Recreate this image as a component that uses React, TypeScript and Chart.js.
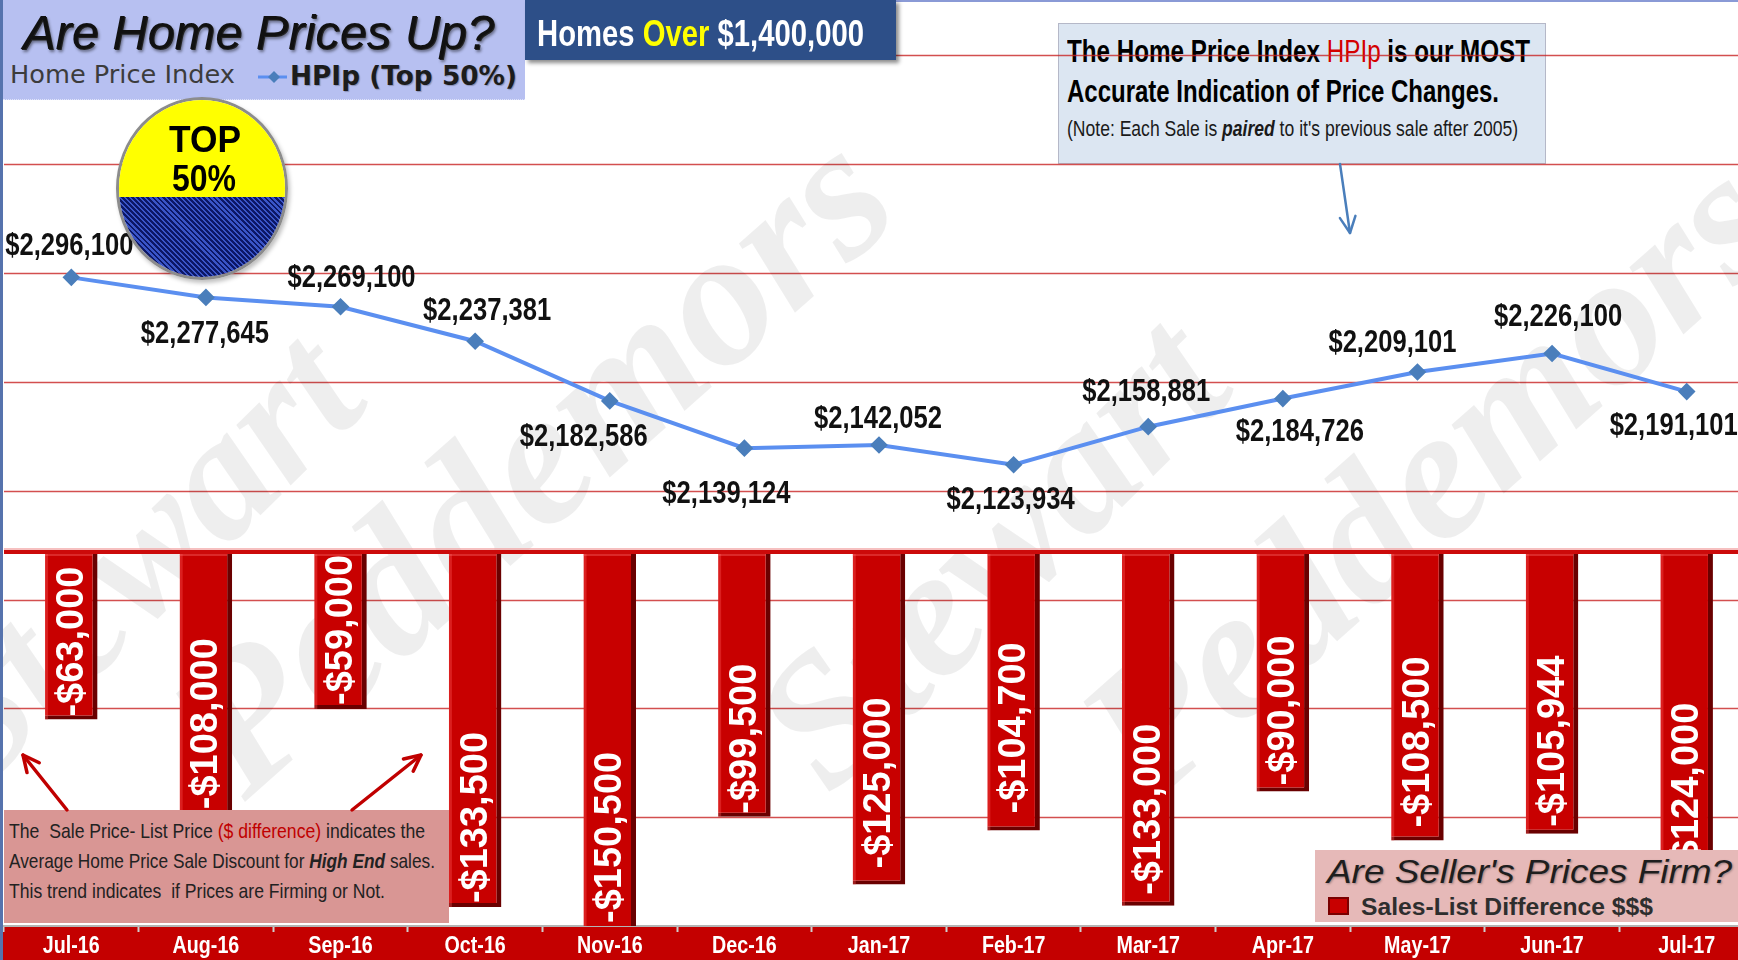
import React, { useEffect, useRef } from 'react';
import { Chart, registerables } from 'chart.js';

Chart.register(...registerables);

// ---------------- data ----------------
const MONTHS = ['Jul-16', 'Aug-16', 'Sep-16', 'Oct-16', 'Nov-16', 'Dec-16', 'Jan-17', 'Feb-17', 'Mar-17', 'Apr-17', 'May-17', 'Jun-17', 'Jul-17'];
const HPIP_TOP50 = [2296100, 2277645, 2269100, 2237381, 2182586, 2139124, 2142052, 2123934, 2158881, 2184726, 2209101, 2226100, 2191101];
const SALES_LIST_DIFF = [-63000, -108000, -59000, -133500, -150500, -99500, -125000, -104700, -133000, -90000, -108500, -105944, -124000];
const HPIP_GRID_VALUES = [1800000, 1900000, 2000000, 2100000, 2200000, 2300000, 2400000, 2500000];

// ---------------- layout (label placement only) ----------------
const HPIP_LABEL_OFFSET: [number, number][] = [
  [-2, -31], [-1, 37], [11, -29], [12, -30], [-26, 36], [-18, 46], [-1, -26],
  [-3, 35], [-2, -35], [17, 34], [-25, -29], [6, -36], [-13, 35],
];
const BAR_LABEL_LIFT = [3, 30, 4, 4, 3, 3, 16, 17, 11, 6, 13, 7, 8];
// watermark words: text, baseline start (x, y), baseline end (x, y)
const WATERMARK: [string, number, number, number, number][] = [
  ['Stewart', -20, 792, 372, 405],
  ['Peddemors', 245, 802, 905, 215],
  ['Stewart', 830, 797, 1238, 392],
  ['Peddemors', 1150, 807, 1790, 240],
];

const SANS = "'Liberation Sans', Arial, sans-serif";
const DEJAVU = "'DejaVu Sans', Verdana, sans-serif";
const SERIF = "'Liberation Serif', 'Times New Roman', serif";

const fmtMoney = (v: number) => (v < 0 ? '-$' : '$') + Math.abs(v).toLocaleString('en-US');

// ---------------- text helpers ----------------
const measureCtx: CanvasRenderingContext2D | null =
  typeof document !== 'undefined' ? document.createElement('canvas').getContext('2d') : null;

type Seg = { t: string; color?: string; weight?: string; italic?: boolean };

function segFont(s: Seg, size: number, family: string, weight: string, italic: boolean) {
  const it = s.italic ?? italic;
  return `${it ? 'italic ' : ''}${s.weight ?? weight} ${size}px ${family}`;
}

function TextLine(props: {
  x: number; baseline: number; size: number; family?: string; weight?: string; italic?: boolean;
  segs: Seg[]; width?: number; align?: 'left' | 'center'; color?: string; shadow?: string;
}) {
  const { x, baseline, size, family = SANS, weight = 'normal', italic = false, segs, width, align = 'left', color = '#000', shadow } = props;
  let natural = 0;
  for (const s of segs) {
    if (measureCtx) {
      measureCtx.font = segFont(s, size, family, weight, italic);
      natural += measureCtx.measureText(s.t).width;
    }
  }
  const sx = width && natural > 0 ? width / natural : 1;
  const w = natural * sx;
  const left = align === 'center' ? x - w / 2 : x;
  return (
    <div
      style={{
        position: 'absolute', left, top: baseline - 0.85 * size, fontSize: size, lineHeight: `${size}px`,
        fontFamily: family, whiteSpace: 'pre', transform: `scaleX(${sx})`, transformOrigin: '0 0',
        color, textShadow: shadow, fontWeight: weight as any, fontStyle: italic ? 'italic' : 'normal',
      }}
    >
      {segs.map((s, i) => (
        <span key={i} style={{ color: s.color, fontWeight: (s.weight ?? weight) as any, fontStyle: (s.italic ?? italic) ? 'italic' : 'normal' }}>
          {s.t}
        </span>
      ))}
    </div>
  );
}

function drawNarrow(ctx: CanvasRenderingContext2D, text: string, cx: number, cy: number, font: string, sx: number) {
  ctx.save();
  ctx.font = font;
  const w = ctx.measureText(text).width * sx;
  ctx.translate(cx - w / 2, cy);
  ctx.scale(sx, 1);
  ctx.textAlign = 'left';
  ctx.textBaseline = 'middle';
  ctx.fillText(text, 0, 0);
  ctx.restore();
}

function Arrow({ x1, y1, x2, y2, color, width, head = 16 }: { x1: number; y1: number; x2: number; y2: number; color: string; width: number; head?: number }) {
  const a = Math.atan2(y2 - y1, x2 - x1);
  const s = 0.45;
  const p1 = [x2 - head * Math.cos(a - s), y2 - head * Math.sin(a - s)];
  const p2 = [x2 - head * Math.cos(a + s), y2 - head * Math.sin(a + s)];
  return (
    <g stroke={color} strokeWidth={width} fill="none" strokeLinecap="round" strokeLinejoin="round">
      <line x1={x1} y1={y1} x2={x2} y2={y2} />
      <polyline points={`${p1[0]},${p1[1]} ${x2},${y2} ${p2[0]},${p2[1]}`} />
    </g>
  );
}

// ---------------- chart plugins ----------------
const backdropPlugin = {
  id: 'backdrop',
  beforeDraw(chart: any) {
    const { ctx, chartArea, width, height, scales } = chart;
    ctx.save();
    // axis band
    ctx.fillStyle = '#c40000';
    ctx.fillRect(0, chartArea.bottom, width, height - chartArea.bottom);
    // horizontal gridlines from the HPIp scale
    ctx.strokeStyle = 'rgba(200,35,35,0.8)';
    ctx.lineWidth = 1.6;
    for (const v of HPIP_GRID_VALUES) {
      const y = Math.round(scales.y.getPixelForValue(v)) + 0.5;
      ctx.beginPath();
      ctx.moveTo(chartArea.left, y);
      ctx.lineTo(chartArea.right, y);
      ctx.stroke();
    }
    ctx.restore();
  },
  beforeDatasetsDraw(chart: any) {
    const { ctx } = chart;
    ctx.save();
    ctx.fillStyle = 'rgba(0,0,0,0.068)';
    ctx.textAlign = 'left';
    ctx.textBaseline = 'alphabetic';
    for (const [t, x1, y1, x2, y2] of WATERMARK) {
      const len = Math.hypot(x2 - x1, y2 - y1);
      ctx.font = `italic bold 100px ${SERIF}`;
      const size = (100 * len) / ctx.measureText(t).width;
      ctx.font = `italic bold ${size.toFixed(1)}px ${SERIF}`;
      ctx.save();
      ctx.translate(x1, y1);
      ctx.rotate(Math.atan2(y2 - y1, x2 - x1));
      ctx.fillText(t, 0, 0);
      ctx.restore();
    }
    ctx.restore();
  },
  afterDatasetsDraw(chart: any) {
    const { ctx, chartArea, scales } = chart;
    ctx.save();
    // bar bevel highlights
    const barMeta = chart.getDatasetMeta(1);
    barMeta.data.forEach((el: any) => {
      const half = el.width / 2;
      const bottom = Math.min(el.y, chartArea.bottom);
      ctx.fillStyle = 'rgba(255,90,90,0.35)';
      ctx.fillRect(el.x - half, el.base, 3, bottom - el.base);
      ctx.fillStyle = 'rgba(255,120,120,0.35)';
      ctx.fillRect(el.x - half, el.base, el.width - 5, 4);
    });
    // zero line of the bar axis
    const y0 = scales.y1.getPixelForValue(0);
    ctx.strokeStyle = 'rgba(240,150,150,0.6)';
    ctx.lineWidth = 2;
    ctx.beginPath();
    ctx.moveTo(chartArea.left, y0 - 3);
    ctx.lineTo(chartArea.right, y0 - 3);
    ctx.stroke();
    ctx.strokeStyle = '#cc0a0a';
    ctx.lineWidth = 4;
    ctx.beginPath();
    ctx.moveTo(chartArea.left, y0);
    ctx.lineTo(chartArea.right, y0);
    ctx.stroke();

    // bar labels (rotated, reading upward from the bar end)
    ctx.fillStyle = '#ffffff';
    ctx.font = `bold 38px ${SANS}`;
    barMeta.data.forEach((el: any, i: number) => {
      const bottom = Math.min(el.y, chartArea.bottom) - BAR_LABEL_LIFT[i];
      ctx.save();
      ctx.translate(el.x + 1, bottom);
      ctx.rotate(-Math.PI / 2);
      ctx.textAlign = 'left';
      ctx.textBaseline = 'middle';
      ctx.fillText(fmtMoney(SALES_LIST_DIFF[i]), 0, 0);
      ctx.restore();
    });

    // line labels
    ctx.fillStyle = '#111111';
    const lineMeta = chart.getDatasetMeta(0);
    lineMeta.data.forEach((pt: any, i: number) => {
      const [dx, dy] = HPIP_LABEL_OFFSET[i];
      drawNarrow(ctx, fmtMoney(HPIP_TOP50[i]), pt.x + dx, pt.y + dy, `bold 32px ${SANS}`, 0.8);
    });
    ctx.restore();
  },
  afterDraw(chart: any) {
    // category labels in the red axis band
    const { ctx, chartArea, height, scales } = chart;
    ctx.save();
    ctx.fillStyle = '#ffffff';
    const yMid = (chartArea.bottom + height) / 2 + 3;
    MONTHS.forEach((m, i) => {
      drawNarrow(ctx, m, scales.x.getPixelForValue(i), yMid, `bold 24px ${SANS}`, 0.82);
    });
    ctx.restore();
  },
};

// ---------------- component ----------------
export default function App() {
  const canvasRef = useRef<HTMLCanvasElement>(null);

  useEffect(() => {
    if (!canvasRef.current) return;
    const chart = new Chart(canvasRef.current, {
      data: {
        labels: MONTHS,
        datasets: [
          {
            type: 'line',
            label: 'HPIp (Top 50%)',
            data: HPIP_TOP50,
            yAxisID: 'y',
            borderColor: '#5b8ff0',
            borderWidth: 4,
            pointStyle: 'rectRot',
            pointRadius: 6,
            pointBackgroundColor: '#4a7ebb',
            pointBorderColor: '#4a7ebb',
            tension: 0,
            order: 0,
          } as any,
          {
            type: 'bar',
            label: 'Sales-List Difference $$$',
            data: SALES_LIST_DIFF,
            yAxisID: 'y1',
            backgroundColor: '#c80000',
            borderColor: '#6a0000',
            borderWidth: { top: 0, right: 5, bottom: 4, left: 0 },
            borderSkipped: false,
            barPercentage: 0.39,
            categoryPercentage: 1,
            order: 1,
          } as any,
        ],
      },
      options: {
        responsive: false,
        animation: false,
        layout: { autoPadding: false, padding: { left: 4, right: 2, top: 0, bottom: 28 } },
        plugins: { legend: { display: false }, tooltip: { enabled: false }, title: { display: false } },
        scales: {
          x: {
            offset: true,
            grid: { display: true, drawOnChartArea: false, drawTicks: true, tickLength: 6, tickWidth: 2, tickColor: '#cfcfcf', offset: true },
            border: { display: true, color: '#b4b4b4', width: 2 },
            ticks: { display: false, autoSkip: false },
          },
          y: { display: false, min: 1700000, max: 2551000 },
          y1: { display: false, min: -140600, max: 207500 },
        },
      } as any,
      plugins: [backdropPlugin],
    });
    return () => chart.destroy();
  }, []);

  return (
    <div style={{ position: 'fixed', left: 0, top: 0, width: 1738, height: 960, overflow: 'hidden', background: '#ffffff' }}>
      {/* info box sits behind the plot (gridlines cross it) */}
      <div style={{ position: 'absolute', left: 1058, top: 23, width: 486, height: 139, background: '#dce6f2', border: '1px solid #b5b8c8' }} />
      <TextLine x={1067} baseline={62} size={32} weight="bold" width={463}
        segs={[{ t: 'The Home Price Index ' }, { t: 'HPIp', color: '#d40000', weight: 'normal' }, { t: ' is our MOST' }]} />
      <TextLine x={1067} baseline={102} size={32} weight="bold" width={432} segs={[{ t: 'Accurate Indication of Price Changes.' }]} />
      <TextLine x={1067} baseline={137} size={22} width={451} color="#1a1a1a"
        segs={[{ t: '(Note: Each Sale is ' }, { t: 'paired', weight: 'bold', italic: true }, { t: " to it's previous sale after 2005)" }]} />

      <canvas ref={canvasRef} width={1756} height={960} style={{ position: 'absolute', left: 0, top: 0, width: 1756, height: 960 }} />

      {/* left and top frame lines */}
      <div style={{ position: 'absolute', left: 0, top: 0, width: 3, height: 960, background: '#5673ad' }} />
      <div style={{ position: 'absolute', left: 896, top: 0, width: 842, height: 2, background: '#8a9ad6' }} />

      {/* title box */}
      <div style={{ position: 'absolute', left: 3, top: 0, width: 522, height: 99, background: '#b7c0f1', borderBottom: '1px dotted #e0e4fa' }} />
      <TextLine x={23} baseline={50} size={49} italic width={471} color="#111" shadow="1px 1px 0 #222, 2px 3px 3px rgba(0,0,0,0.45)"
        segs={[{ t: 'Are Home Prices Up?' }]} />
      <TextLine x={10} baseline={83} size={24} family={DEJAVU} width={225} color="#3c3c3c" segs={[{ t: 'Home Price Index' }]} />
      <svg style={{ position: 'absolute', left: 0, top: 0 }} width={300} height={100}>
        <line x1={258} y1={77} x2={287} y2={77} stroke="#5b8ff0" strokeWidth={3} />
        <polygon points="274,71 280,77 274,83 268,77" fill="#4a7ebb" />
      </svg>
      <TextLine x={290} baseline={85} size={26} family={DEJAVU} weight="bold" width={227} color="#1c1c1c"
        shadow="1px 1px 1px rgba(0,0,0,0.25)" segs={[{ t: 'HPIp (Top 50%)' }]} />

      {/* homes over box */}
      <div style={{ position: 'absolute', left: 525, top: 0, width: 371, height: 60, background: '#2d4f88', boxShadow: '3px 3px 4px rgba(0,0,0,0.45)' }} />
      <TextLine x={537} baseline={47} size={36} weight="bold" width={327} color="#ffffff"
        segs={[{ t: 'Homes ' }, { t: 'Over', color: '#ffff00' }, { t: ' $1,400,000' }]} />

      {/* TOP 50% badge */}
      <div style={{
        position: 'absolute', left: 116, top: 97, width: 172, height: 183, borderRadius: '50%', overflow: 'hidden',
        border: '3px solid #8c8c8c', boxSizing: 'border-box', boxShadow: '2px 3px 4px rgba(0,0,0,0.25)',
      }}>
        <div style={{ position: 'absolute', left: 0, top: 0, width: '100%', height: '55%', background: '#ffff00' }} />
        <div style={{
          position: 'absolute', left: 0, top: '55%', width: '100%', height: '45%',
          background: 'repeating-linear-gradient(45deg, #0c1766 0px, #0c1766 2px, #3a55c8 2px, #3a55c8 3.6px)',
        }} />
      </div>
      <TextLine x={205} baseline={153} size={36} weight="bold" width={72} align="center" segs={[{ t: 'TOP' }]} />
      <TextLine x={204} baseline={192} size={36} weight="bold" width={64} align="center" segs={[{ t: '50%' }]} />

      {/* note box bottom-left */}
      <div style={{ position: 'absolute', left: 4, top: 810, width: 445, height: 113, background: '#d99694' }} />
      <TextLine x={9} baseline={838} size={21} width={416} color="#222"
        segs={[{ t: 'The  Sale Price- List Price ' }, { t: '($ difference)', color: '#c00000' }, { t: ' indicates the' }]} />
      <TextLine x={9} baseline={868} size={21} width={426} color="#222"
        segs={[{ t: 'Average Home Price Sale Discount for ' }, { t: 'High End', weight: 'bold', italic: true }, { t: ' sales.' }]} />
      <TextLine x={9} baseline={898} size={21} width={376} color="#222" segs={[{ t: 'This trend indicates  if Prices are Firming or Not.' }]} />

      {/* legend box bottom-right */}
      <div style={{ position: 'absolute', left: 1315, top: 850, width: 423, height: 72, background: '#e6b9b8' }} />
      <TextLine x={1327} baseline={883} size={33} italic width={405} color="#1e1e1e" shadow="1px 1px 2px rgba(0,0,0,0.3)"
        segs={[{ t: "Are Seller's Prices Firm?" }]} />
      <div style={{ position: 'absolute', left: 1328, top: 897, width: 21, height: 18, background: '#c80000', border: '2px solid #7a0000', boxSizing: 'border-box' }} />
      <TextLine x={1361} baseline={915} size={24} weight="bold" width={292} color="#2e2e2e" segs={[{ t: 'Sales-List Difference $$$' }]} />

      {/* arrows */}
      <svg style={{ position: 'absolute', left: 0, top: 0, pointerEvents: 'none' }} width={1738} height={960}>
        <Arrow x1={1340} y1={164} x2={1350} y2={233} color="#4a7ebb" width={2.5} head={18} />
        <Arrow x1={67} y1={810} x2={23} y2={755} color="#c00000" width={3.5} head={18} />
        <Arrow x1={352} y1={810} x2={421} y2={755} color="#c00000" width={3.5} head={18} />
      </svg>
    </div>
  );
}
